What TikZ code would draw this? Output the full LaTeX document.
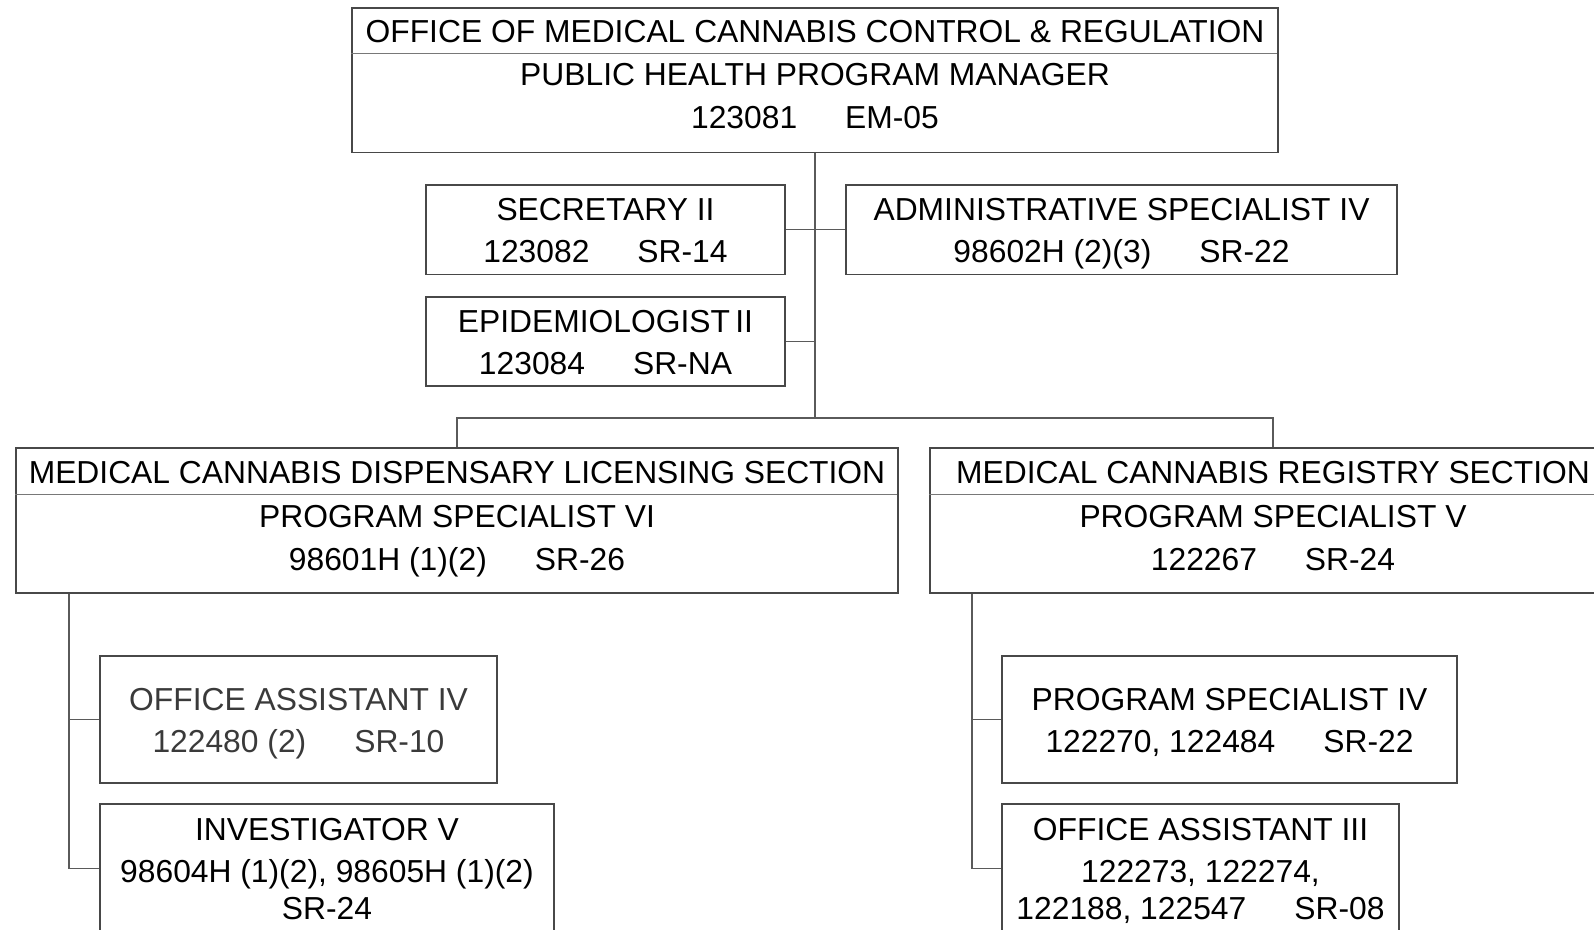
\documentclass[tikz,border=0pt]{standalone}
\usepackage{fontspec}
\setmainfont{Liberation Sans}
\definecolor{boxline}{RGB}{72,72,72}
\definecolor{linkline}{RGB}{90,90,90}
\definecolor{splitline}{RGB}{120,120,120}
\definecolor{dimtext}{RGB}{58,58,58}
\newcommand{\chartfont}{\fontsize{31.8}{37}\selectfont}
\newcommand{\tabgap}{\hspace{48pt}}
\newcommand{\rowtop}{\rule{0pt}{30pt}}
\newcommand{\rowend}{\rule[-7pt]{0pt}{7pt}}

\begin{document}
\begin{tikzpicture}
    [ x=1pt, y=-1pt
    , box/.style={draw=boxline, line width=1.3pt, inner sep=0pt, align=center, font=\chartfont,
        execute at end node=\rowend}
    , txt/.style={inner sep=0pt, align=center, font=\chartfont}
    , bodytxt/.style={txt, execute at end node=\rowend}
    , link/.style={draw=linkline, line width=1.3pt}
    , divider/.style={draw=splitline, line width=1.3pt}
    ]
\useasboundingbox (0,0) rectangle (1594,929);
\clip (0,0) rectangle (1594,929);

% office
\node[box, minimum width=926, minimum height=144.5] (office) at (815,80.25) {};
\node[txt] (officetitle) at (815,31.5) {OFFICE OF MEDICAL CANNABIS CONTROL \& REGULATION};
\node[bodytxt] (officehead) at (815,95.5) {\rowtop PUBLIC HEALTH PROGRAM MANAGER\\[6pt] 123081\tabgap EM-05};
\draw[divider] (office.north west) ++(0,46) -- ++(926,0);

% staff
\node[box, minimum width=359, minimum height=89.5] (secretary) at (605.5,229.75)
    {\rowtop SECRETARY II\\[5pt] 123082\tabgap SR-14};
\node[box, minimum width=551, minimum height=89.5] (admin) at (1121.5,229.75)
    {\rowtop ADMINISTRATIVE SPECIALIST IV\\[5pt] 98602H (2)(3)\tabgap SR-22};
\node[box, minimum width=359, minimum height=89] (epi) at (605.5,341.5)
    {\rowtop EPIDEMIOLOGIST\,II\\[5pt] 123084\tabgap SR-NA};

% sections
\node[box, minimum width=882, minimum height=145] (licensing) at (457,520.5) {};
\node[txt] (lictitle) at (457,473) {MEDICAL CANNABIS DISPENSARY LICENSING SECTION};
\node[bodytxt] (lichead) at (457,537) {\rowtop PROGRAM SPECIALIST VI\\[6pt] 98601H (1)(2)\tabgap SR-26};
\draw[divider] (licensing.north west) ++(0,47) -- ++(882,0);

\node[box, minimum width=686, minimum height=145] (registry) at (1273,520.5) {};
\node[txt] (regtitle) at (1273,473) {MEDICAL CANNABIS REGISTRY SECTION};
\node[bodytxt] (reghead) at (1273,537) {\rowtop PROGRAM SPECIALIST V\\[6pt] 122267\tabgap SR-24};
\draw[divider] (registry.north west) ++(0,47) -- ++(686,0);

% units
\node[box, text=dimtext, minimum width=397, minimum height=127] (assist4) at (298.5,719.5)
    {\rowtop OFFICE ASSISTANT IV\\[5pt] 122480 (2)\tabgap SR-10};
\node[box, minimum width=454, minimum height=129] (investigator) at (327,868.5)
    {\rowtop INVESTIGATOR V\\[5pt] 98604H (1)(2), 98605H (1)(2)\\ SR-24};
\node[box, minimum width=455, minimum height=127] (spec4) at (1229.5,719.5)
    {\rowtop PROGRAM SPECIALIST IV\\[5pt] 122270, 122484\tabgap SR-22};
\node[box, minimum width=397, minimum height=129] (assist3) at (1200.5,868.5)
    {\rowtop OFFICE ASSISTANT III\\[5pt] 122273, 122274,\\ 122188, 122547\tabgap SR-08};

% connectors
\coordinate (bar) at (815,418);
\coordinate (licspine) at (69,0);
\coordinate (regspine) at (972,0);
\draw[link] (office.south) -- (bar);
\draw[link] (secretary.east) -- (admin.west);
\draw[link] (epi.east) -- (epi.east -| office.south);
\draw[link] (licensing.north) |- (bar) -| (registry.north);
\draw[link] (licspine |- licensing.south) |- (investigator.west);
\draw[link] (licspine |- assist4.west) -- (assist4.west);
\draw[link] (regspine |- registry.south) |- (assist3.west);
\draw[link] (regspine |- spec4.west) -- (spec4.west);

\end{tikzpicture}
\end{document}
